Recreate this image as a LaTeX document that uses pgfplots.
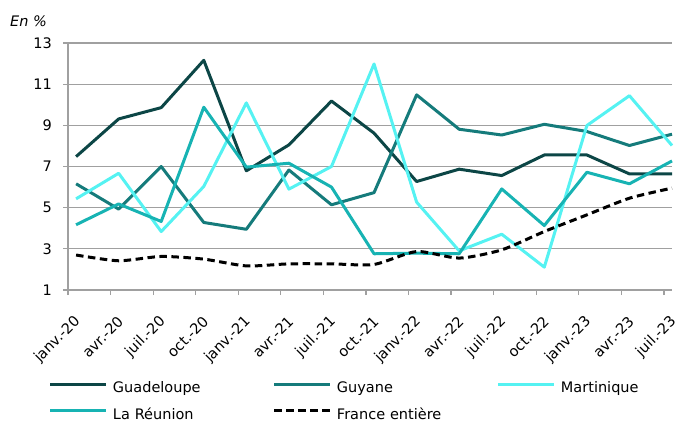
\documentclass[border=0pt]{standalone}
\usepackage{fontspec}
\setmainfont{DejaVu Sans}
\usepackage{pgfplots}
\pgfplotsset{compat=1.18}
\definecolor{cGua}{HTML}{0C4646}
\definecolor{cGuy}{HTML}{157B7B}
\definecolor{cMar}{HTML}{55F2F2}
\definecolor{cReu}{HTML}{17B3B3}
\definecolor{gridgray}{HTML}{A0A0A0}
\begin{document}
\fontsize{14.5bp}{17bp}\selectfont
\begin{tikzpicture}
\useasboundingbox (0,0) rectangle (677bp,421bp);
\begin{axis}[
  at={(68bp,131bp)}, anchor=south west,
  scale only axis, width=604bp, height=247bp,
  xmin=0, xmax=14.19, ymin=1, ymax=13,
  clip=false,
  ytick={1,3,...,13},
  xtick={0,...,14},
  xticklabels={janv.-20,avr.-20,juil.-20,oct.-20,janv.-21,avr.-21,juil.-21,oct.-21,janv.-22,avr.-22,juil.-22,oct.-22,janv.-23,avr.-23,juil.-23},
  axis x line*=bottom, axis y line*=left,
  axis line style={draw=gridgray, line width=1.2bp, -},
  ymajorgrids, grid style={draw=gridgray, line width=1.2bp},
  tick align=outside, major tick length=5bp,
  tick style={draw=gridgray, line width=1.2bp},
  /pgf/number format/assume math mode=true,
  yticklabel style={anchor=east, inner sep=0pt, xshift=-11bp},
  xticklabel style={xshift=10bp, yshift=-24bp, rotate=45, anchor=east, inner sep=0pt},
  no markers,
  every axis plot/.append style={line width=3bp, line join=round},
  legend columns=3,
  legend cell align=left,
  legend image code/.code={\draw[#1] (0bp,4.5bp) -- (56bp,4.5bp);},
  legend style={draw=none, fill=none, at={(-0.0315,-0.3712)}, anchor=north west,
    inner sep=0pt, outer sep=0pt, column sep=0pt, row sep=12.7bp,
    nodes={inner sep=0pt, text width=160bp, text height=11bp, text depth=3bp, align=left},
    /tikz/every odd column/.append style={column sep=5bp}},
]
\addplot[color=cGua] table {
x y
0.19 7.48
1.19 9.31
2.19 9.86
3.19 12.16
4.19 6.79
5.19 8.05
6.19 10.18
7.19 8.62
8.19 6.27
9.19 6.87
10.19 6.56
11.19 7.56
12.19 7.56
13.19 6.64
14.19 6.64
};
\addlegendentry{Guadeloupe}
\addplot[color=cGuy] table {
x y
0.19 6.16
1.19 4.93
2.19 7.00
3.19 4.28
4.19 3.95
5.19 6.83
6.19 5.14
7.19 5.73
8.19 10.48
9.19 8.81
10.19 8.53
11.19 9.05
12.19 8.70
13.19 8.02
14.19 8.57
};
\addlegendentry{Guyane}
\addplot[color=cMar] table {
x y
0.19 5.43
1.19 6.67
2.19 3.84
3.19 6.03
4.19 10.09
5.19 5.90
6.19 7.00
7.19 11.98
8.19 5.27
9.19 2.90
10.19 3.71
11.19 2.11
12.19 8.99
13.19 10.44
14.19 8.02
};
\addlegendentry{Martinique}
\addplot[color=cReu] table {
x y
0.19 4.17
1.19 5.18
2.19 4.33
3.19 9.88
4.19 6.97
5.19 7.16
6.19 6.00
7.19 2.76
8.19 2.79
9.19 2.76
10.19 5.91
11.19 4.13
12.19 6.72
13.19 6.16
14.19 7.27
};
\addlegendentry{La Réunion}
\addplot[color=black, dash pattern=on 7.5bp off 4.5bp, smooth, tension=0.4] table {
x y
0.19 2.70
1.19 2.42
2.19 2.63
3.19 2.50
4.19 2.17
5.19 2.27
6.19 2.27
7.19 2.24
8.19 2.87
9.19 2.55
10.19 2.95
11.19 3.84
12.19 4.65
13.19 5.46
14.19 5.95
};
\addlegendentry{France entière}
\node[anchor=base west, font=\itshape, inner sep=0pt] at (axis description cs:-0.0960,1.0648) {En \%};
\end{axis}
\end{tikzpicture}
\end{document}
